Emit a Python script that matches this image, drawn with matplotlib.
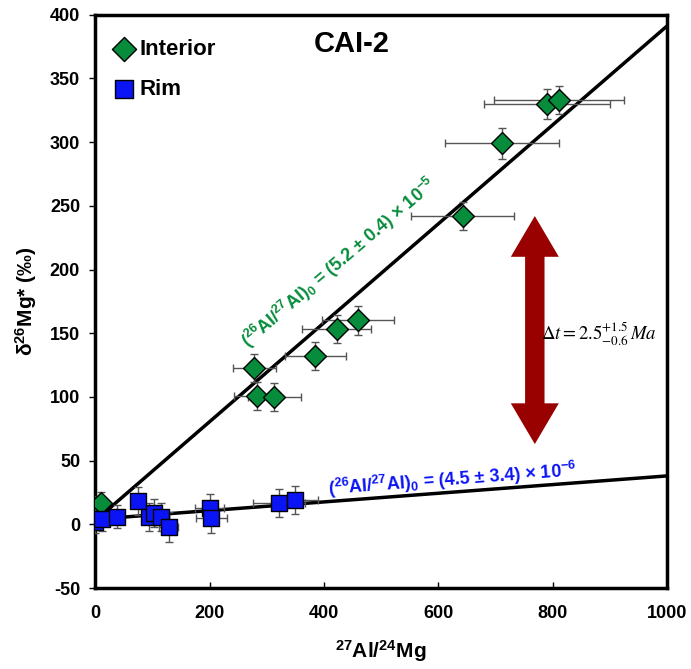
import numpy as np
import matplotlib
matplotlib.use("Agg")
import matplotlib.pyplot as plt
from matplotlib.patches import Polygon


# ---------------------------------------------------------
# Data
# ---------------------------------------------------------
interior_x = [2, 10, 278, 282, 313, 385, 422, 459, 643, 711, 790, 811]
interior_y = [14, 17, 123, 101, 100, 132, 153, 160, 242, 299, 330, 333]
interior_xerr = [6, 6, 38, 40, 46, 53, 60, 63, 90, 100, 110, 114]
interior_yerr = [8, 8, 11, 11, 11, 11, 11, 11, 11, 12, 12, 11]

rim_x = [0, 12, 37, 74, 93, 103, 114, 128, 200, 203, 321, 349]
rim_y = [2, 4, 6, 18, 6, 9, 6, -2, 13, 5, 17, 19]
rim_xerr = [5, 6, 8, 10, 12, 12, 14, 16, 25, 27, 45, 40]
rim_yerr = [9, 9, 9, 11, 11, 11, 11, 12, 11, 12, 11, 11]

# isochron fits: slope, intercept
interior_fit = (0.388, 3.0)
rim_fit = (0.034, 4.0)

x_ticks = [0, 200, 400, 600, 800, 1000]
y_ticks = [-50, 0, 50, 100, 150, 200, 250, 300, 350, 400]

GREEN = "#078c3c"
BLUE = "#0a14f5"
DARKRED = "#990000"

plt.rcParams["font.family"] = ["Liberation Sans", "DejaVu Sans"]
plt.rcParams["axes.unicode_minus"] = False
plt.rcParams["mathtext.fontset"] = "custom"
plt.rcParams["mathtext.rm"] = "Liberation Sans:bold"
plt.rcParams["mathtext.bf"] = "Liberation Sans:bold"
plt.rcParams["mathtext.it"] = "Liberation Sans:bold"

fig = plt.figure(figsize=(6.91, 6.69), dpi=100)
ax = fig.add_axes([0.138, 0.121, 0.827, 0.857])

# ---------------------------------------------------------
# Fit lines
# ---------------------------------------------------------
xx = np.array([0, 1000])
ax.plot(xx, interior_fit[0] * xx + interior_fit[1], color="black", lw=2.5, zorder=2)
ax.plot(xx, rim_fit[0] * xx + rim_fit[1], color="black", lw=2.5, zorder=2)

# ---------------------------------------------------------
# Points with error bars
# ---------------------------------------------------------
ax.errorbar(interior_x, interior_y, xerr=interior_xerr, yerr=interior_yerr,
            fmt="none", ecolor="#555555", elinewidth=1, capsize=3, capthick=1, zorder=3)
ax.errorbar(rim_x, rim_y, xerr=rim_xerr, yerr=rim_yerr,
            fmt="none", ecolor="#555555", elinewidth=1, capsize=3, capthick=1, zorder=3)

ax.scatter(interior_x, interior_y, marker="D", s=125, color=GREEN,
           edgecolor="black", linewidth=1, zorder=4, label="Interior")
ax.scatter(rim_x, rim_y, marker="s", s=135, color=BLUE,
           edgecolor="black", linewidth=1, zorder=5, label="Rim")

# ---------------------------------------------------------
# Double arrow (single polygon, data units)
# ---------------------------------------------------------
ax_x, top, bot = 769, 242, 63
shaft, head, head_len = 17, 42, 32
arrow_pts = [
    (ax_x, top), (ax_x + head, top - head_len), (ax_x + shaft, top - head_len),
    (ax_x + shaft, bot + head_len), (ax_x + head, bot + head_len), (ax_x, bot),
    (ax_x - head, bot + head_len), (ax_x - shaft, bot + head_len),
    (ax_x - shaft, top - head_len), (ax_x - head, top - head_len),
]
ax.add_patch(Polygon(arrow_pts, closed=True, color=DARKRED, lw=0, zorder=3))

ax.text(882, 149, r"$\Delta t = \mathrm{2.5}^{+1.5}_{-0.6}\,Ma$", fontsize=13.5,
        ha="center", va="center", math_fontfamily="stix")

# ---------------------------------------------------------
# Annotations
# ---------------------------------------------------------
ax.text(426, 205, r"($^{26}$Al/$^{27}$Al)$_0$ = (5.2 ± 0.4) × 10$^{-5}$",
        color=GREEN, fontsize=13, fontweight="bold", rotation=40.5,
        ha="center", va="center", rotation_mode="anchor")
ax.text(624, 35, r"($^{26}$Al/$^{27}$Al)$_0$ = (4.5 ± 3.4) × 10$^{-6}$",
        color=BLUE, fontsize=13, fontweight="bold", rotation=4.3,
        ha="center", va="center", rotation_mode="anchor")

ax.text(448, 377, "CAI-2", fontsize=21, fontweight="bold", ha="center", va="center")

# ---------------------------------------------------------
# Axes styling
# ---------------------------------------------------------
ax.set_xlim(0, 1000)
ax.set_ylim(-50, 400)
ax.set_xticks(x_ticks)
ax.set_yticks(y_ticks)
ax.tick_params(axis="x", direction="in", length=4, width=1, pad=12, labelsize=13)
ax.tick_params(axis="y", direction="out", length=4, width=1, pad=7, labelsize=13)
for lbl in ax.get_xticklabels() + ax.get_yticklabels():
    lbl.set_fontweight("bold")
for sp in ax.spines.values():
    sp.set_linewidth(2.5)

ax.set_xlabel(r"$^{27}$Al/$^{24}$Mg", fontsize=15, fontweight="bold", labelpad=12)
ax.set_ylabel(r"δ$^{26}$Mg* (‰)", fontsize=15, fontweight="bold", labelpad=8)

leg = ax.legend(loc="upper left", bbox_to_anchor=(0.0, 0.985), frameon=False,
                handletextpad=0.1, borderaxespad=0.3, borderpad=0.4,
                labelspacing=0.85, scatterpoints=1, handlelength=1.2,
                markerscale=1.1, prop={"weight": "bold", "size": 16})

fig.savefig("out.png", dpi=100)
